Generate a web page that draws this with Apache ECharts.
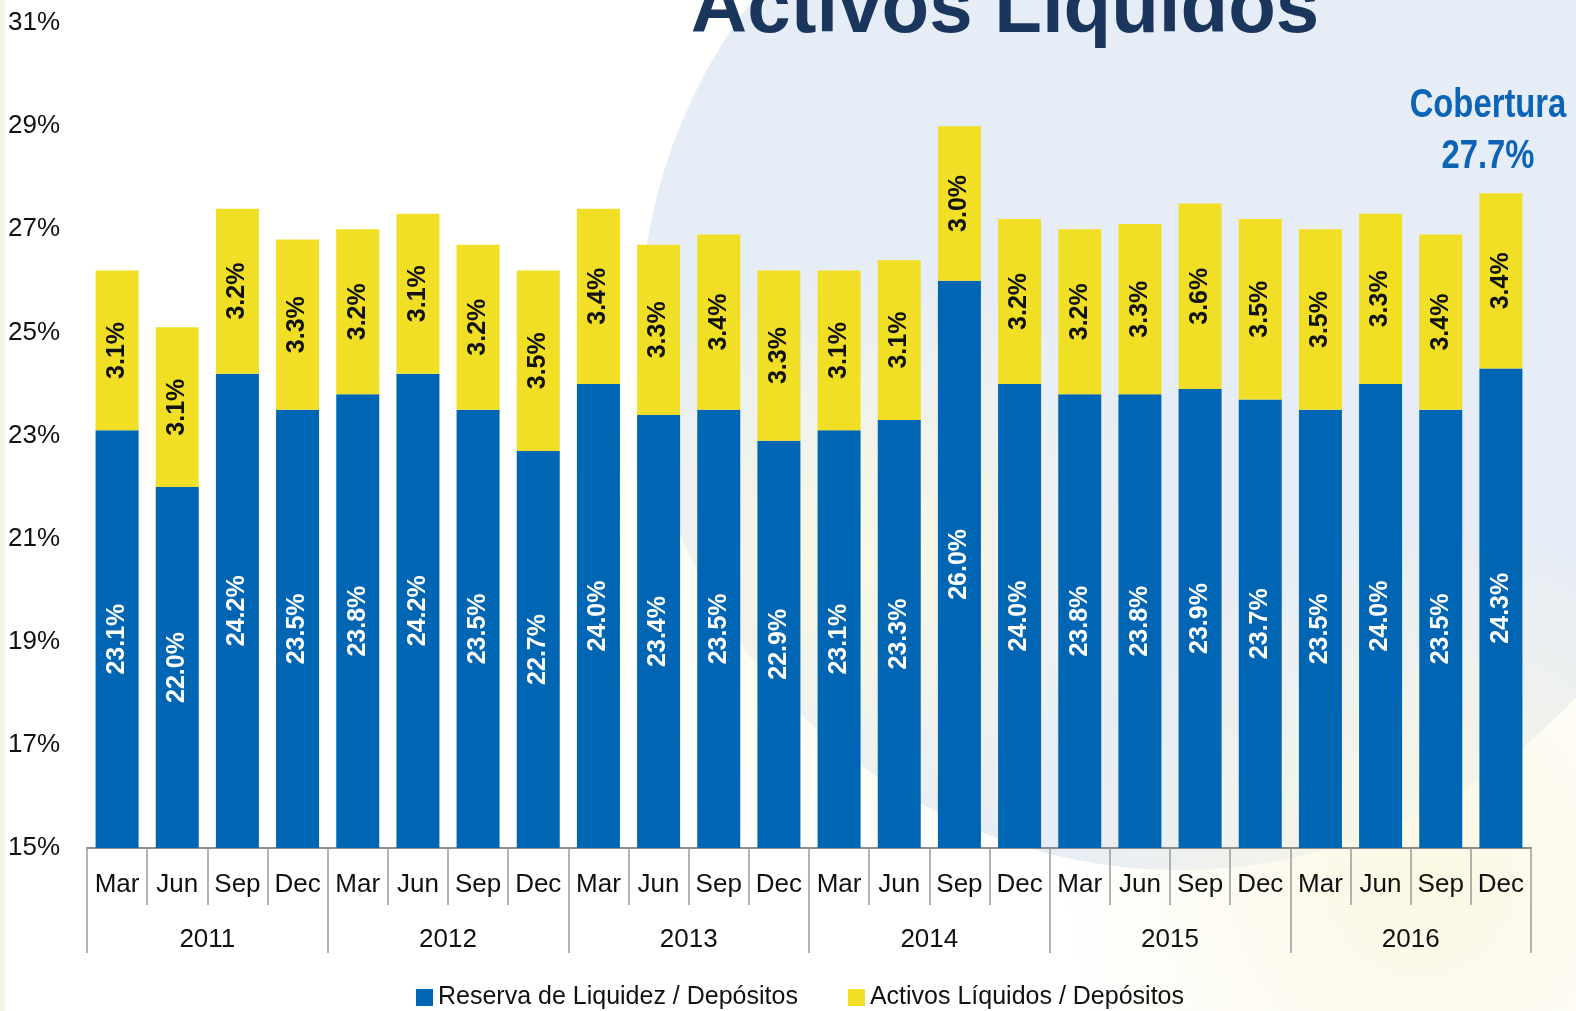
<!DOCTYPE html>
<html>
<head>
<meta charset="utf-8">
<script src="https://cdn.jsdelivr.net/npm/echarts@6/dist/echarts.min.js"></script>
<style>
    html, body { margin: 0; padding: 0; background: #fff; }
    #chart { width: 1576px; height: 1011px; }
</style>
</head>
<body>
<div id="chart"></div>
<script>
// 季度与年份
const months = ["Mar", "Jun", "Sep", "Dec", "Mar", "Jun", "Sep", "Dec", "Mar", "Jun", "Sep", "Dec",
    "Mar", "Jun", "Sep", "Dec", "Mar", "Jun", "Sep", "Dec", "Mar", "Jun", "Sep", "Dec"];
const years = ["2011", "2012", "2013", "2014", "2015", "2016"];

// Reserva de Liquidez / Depósitos
const reserva = [23.1, 22.0, 24.2, 23.5, 23.8, 24.2, 23.5, 22.7, 24.0, 23.4, 23.5, 22.9,
    23.1, 23.3, 26.0, 24.0, 23.8, 23.8, 23.9, 23.7, 23.5, 24.0, 23.5, 24.3];
// Activos Líquidos / Depósitos
const activos = [3.1, 3.1, 3.2, 3.3, 3.2, 3.1, 3.2, 3.5, 3.4, 3.3, 3.4, 3.3,
    3.1, 3.1, 3.0, 3.2, 3.2, 3.3, 3.6, 3.5, 3.5, 3.3, 3.4, 3.4];

const yTicks = { min: 15, max: 31, step: 2 };
const seriesNames = ["Reserva de Liquidez / Depósitos", "Activos Líquidos / Depósitos"];
const titleText = "Activos Líquidos";
const coberturaText = ["Cobertura", "27.7%"];

const FONT = '"Liberation Sans", Arial, sans-serif';
const BLUE = "#0066b3";
const YELLOW = "#f0df24";

let myChart = echarts.init(document.getElementById("chart"));

let option = {
    backgroundColor: "#ffffff",
    animation: false,
    grid: { left: 87, right: 45, top: 23, bottom: 163 },
    // 背景装饰 + 标题
    graphic: [
        { type: "rect", z: -10, shape: { x: 0, y: 0, width: 5, height: 1011 }, style: { fill: "#f7f5e3" } },
        { type: "circle", z: -10, shape: { cx: 1180, cy: 330, r: 540 }, style: { fill: "#e7edf6" } },
        {
            type: "ellipse", z: -9, shape: { cx: 860, cy: 560, rx: 300, ry: 380 },
            style: {
                fill: new echarts.graphic.RadialGradient(0.5, 0.5, 0.5, [
                    { offset: 0, color: "rgba(252,250,225,0.9)" },
                    { offset: 1, color: "rgba(252,250,225,0)" }
                ])
            }
        },
        {
            type: "ellipse", z: -9, shape: { cx: 1420, cy: 880, rx: 460, ry: 360 },
            style: {
                fill: new echarts.graphic.RadialGradient(0.5, 0.5, 0.5, [
                    { offset: 0, color: "rgba(250,247,226,1)" },
                    { offset: 1, color: "rgba(250,247,226,0)" }
                ])
            }
        },
        {
            type: "text", z: 100, x: 1005, y: 10,
            style: { text: titleText, font: "bold 78px " + FONT, fill: "#1b365d", align: "center", verticalAlign: "middle" }
        },
        {
            type: "text", z: 100, x: 1488, y: 106, scaleX: 0.82,
            style: { text: coberturaText[0], font: "bold 40px " + FONT, fill: "#0b64b5", align: "center", verticalAlign: "middle" }
        },
        {
            type: "text", z: 100, x: 1488, y: 157, scaleX: 0.82,
            style: { text: coberturaText[1], font: "bold 40px " + FONT, fill: "#0b64b5", align: "center", verticalAlign: "middle" }
        }
    ],
    legend: {
        top: 980,
        left: 411,
        icon: "rect",
        itemWidth: 17,
        itemHeight: 17,
        itemGap: 50,
        textStyle: { fontSize: 25, fontFamily: FONT, color: "#111" },
        data: seriesNames
    },
    xAxis: [
        {
            type: "category",
            position: "bottom",
            data: months,
            axisLine: { lineStyle: { color: "#8c8c8c", width: 2 } },
            axisTick: { show: true, interval: 0, length: 57, lineStyle: { color: "#9a9a9a", width: 1.5 } },
            axisLabel: { interval: 0, margin: 24, fontSize: 26, fontFamily: FONT, color: "#111" }
        },
        {
            type: "category",
            position: "bottom",
            data: years,
            axisLine: { show: false },
            axisTick: { show: true, interval: 0, length: 105, lineStyle: { color: "#9a9a9a", width: 1.5 } },
            axisLabel: { interval: 0, margin: 79, fontSize: 26, fontFamily: FONT, color: "#111" }
        }
    ],
    yAxis: {
        type: "value",
        min: yTicks.min,
        max: yTicks.max,
        interval: yTicks.step,
        axisLine: { show: false },
        axisTick: { show: false },
        splitLine: { show: false },
        axisLabel: { margin: 27, fontSize: 26, fontFamily: FONT, color: "#111", formatter: "{value}%" }
    },
    series: [
        {
            name: seriesNames[0],
            type: "bar",
            stack: "total",
            xAxisIndex: 0,
            barWidth: 43,
            data: reserva,
            itemStyle: { color: BLUE },
            label: {
                show: true, position: "inside", rotate: 90,
                color: "#fff", fontWeight: "bold", fontSize: 25, fontFamily: FONT,
                formatter: p => p.value.toFixed(1) + "%"
            }
        },
        {
            name: seriesNames[1],
            type: "bar",
            stack: "total",
            xAxisIndex: 0,
            barWidth: 43,
            data: activos,
            itemStyle: { color: YELLOW },
            label: {
                show: true, position: "inside", rotate: 90,
                color: "#111", fontWeight: "bold", fontSize: 25, fontFamily: FONT,
                formatter: p => p.value.toFixed(1) + "%"
            }
        }
    ]
};

myChart.setOption(option);

window.addEventListener("resize", () => {
    myChart.resize();
});
</script>
</body>
</html>
